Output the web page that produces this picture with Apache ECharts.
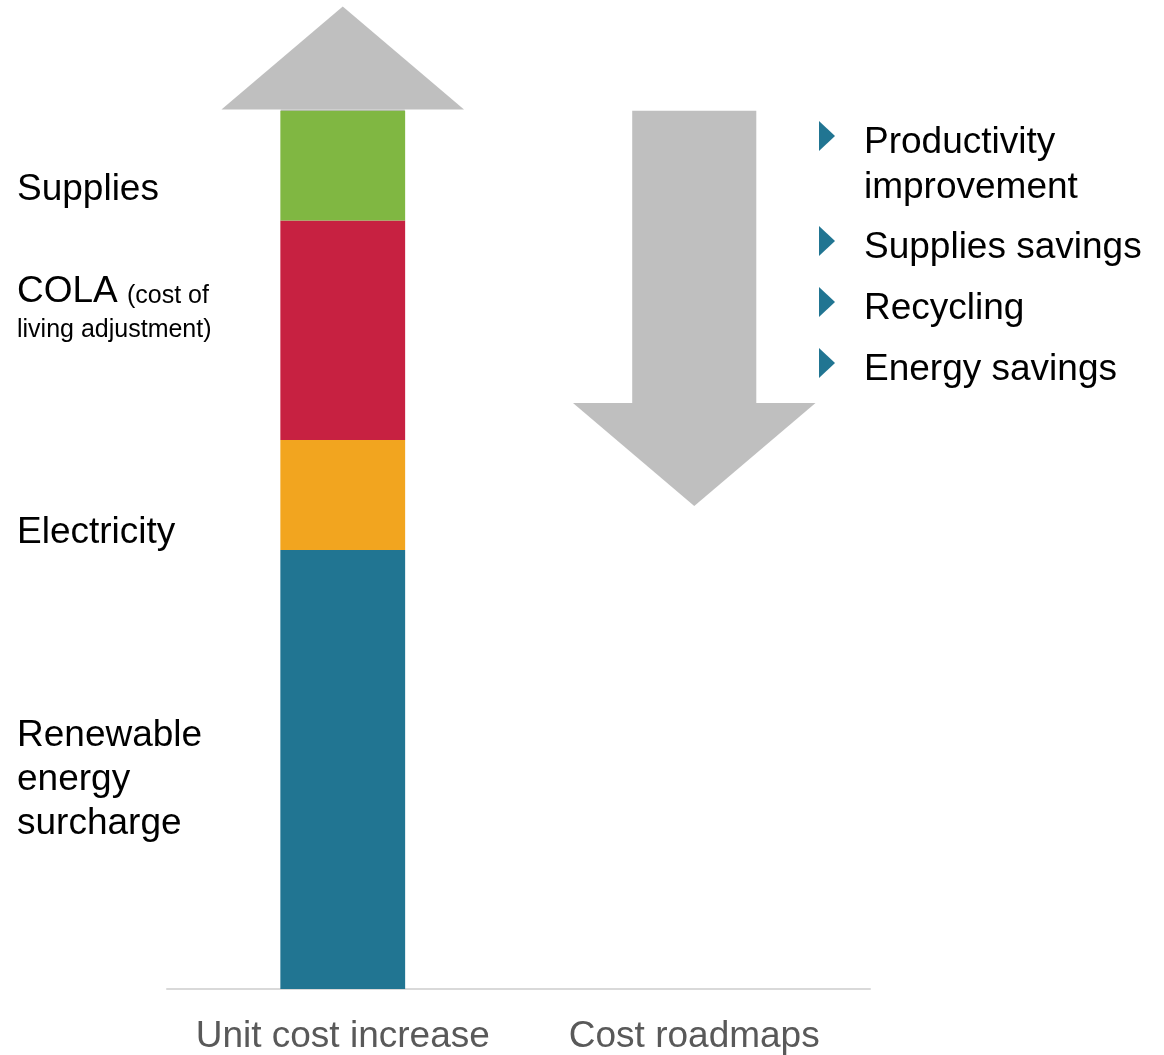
<!DOCTYPE html>
<html>
<head>
<meta charset="utf-8">
<script src="https://cdn.jsdelivr.net/npm/echarts@6/dist/echarts.min.js"></script>
<style>
html,body{margin:0;padding:0;background:#fff;}
#chart{width:1164px;height:1055px;}
</style>
</head>
<body>
<div id="chart"></div>
<script>
// ---- data ----
const categories = ['Unit cost increase', 'Cost roadmaps'];
const segmentNames = ['Renewable energy surcharge', 'Electricity', 'COLA', 'Supplies'];
const renewableValues = [4, '-'];
const electricityValues = [1, '-'];
const colaValues = [2, '-'];
const suppliesValues = [1, '-'];
// arrows: [category index, start value, tip value]
const arrowData = [[0, 8, 8.95], [1, 8, 4.4]];
const roadmapItems = ['Productivity\nimprovement', 'Supplies savings', 'Recycling', 'Energy savings'];

const colors = ['#217592', '#F2A51F', '#C72141', '#80B742'];
const FONT = '"Liberation Sans", Arial, sans-serif';

const chart = echarts.init(document.getElementById('chart'));

function arrowRender(params, api) {
  const cat = api.value(0);
  const from = api.coord([cat, api.value(1)]);
  const to = api.coord([cat, api.value(2)]);
  const band = api.size([1, 0])[0];
  const shaftW = band * 0.353;
  const headW = band * 0.69;
  const headLen = 103;
  const dir = to[1] < from[1] ? -1 : 1;
  const cx = from[0];
  const headBaseY = to[1] - dir * headLen;
  const children = [];
  if ((headBaseY - from[1]) * dir > 0) {
    const y0 = Math.min(from[1], headBaseY), y1 = Math.max(from[1], headBaseY);
    children.push({
      type: 'rect',
      shape: { x: cx - shaftW / 2, y: y0, width: shaftW, height: y1 - y0 + 0.5 },
      style: { fill: '#BFBFBF' }
    });
  }
  children.push({
    type: 'polygon',
    shape: { points: [[cx - headW / 2, headBaseY], [cx + headW / 2, headBaseY], [cx, to[1]]] },
    style: { fill: '#BFBFBF' }
  });
  return { type: 'group', children: children };
}

function stackSeries(name, data, color) {
  return {
    name: name, type: 'bar', stack: 'cost', data: data,
    barWidth: '35.5%', itemStyle: { color: color }, silent: true, z: 3
  };
}

const bulletY = [136, 241, 302, 363];
const bulletGraphics = [];
roadmapItems.forEach((t, i) => {
  const y = bulletY[i];
  bulletGraphics.push({
    type: 'polygon', shape: { points: [[819, y - 15], [835, y], [819, y + 15]] },
    style: { fill: '#217592' }
  });
  bulletGraphics.push({
    type: 'text', x: 864, y: y + 7 + (t.indexOf('\n') >= 0 ? 22.5 : 0),
    style: { text: t, font: '37px ' + FONT, fill: '#000', verticalAlign: 'middle', lineHeight: 45 }
  });
});

chart.setOption({
  animation: false,
  backgroundColor: '#fff',
  grid: { left: 167, right: 294, top: 1, bottom: 64 },
  xAxis: {
    type: 'category', data: categories,
    axisLine: { lineStyle: { color: '#D9D9D9', width: 2 } },
    axisTick: { show: false },
    axisLabel: { color: '#595959', fontSize: 37, fontFamily: FONT, margin: 29, interval: 0 }
  },
  yAxis: { type: 'value', min: 0, max: 9, show: false, splitLine: { show: false } },
  series: [
    stackSeries(segmentNames[0], renewableValues, colors[0]),
    stackSeries(segmentNames[1], electricityValues, colors[1]),
    stackSeries(segmentNames[2], colaValues, colors[2]),
    stackSeries(segmentNames[3], suppliesValues, colors[3]),
    { type: 'custom', renderItem: arrowRender, data: arrowData, z: 2, silent: true }
  ],
  graphic: [
    { type: 'text', x: 17, y: 190, style: { text: 'Supplies', font: '37px ' + FONT, fill: '#000', verticalAlign: 'middle' } },
    { type: 'text', x: 17, y: 292, style: { text: 'COLA', font: '37px ' + FONT, fill: '#000', verticalAlign: 'middle' } },
    { type: 'text', x: 127, y: 296, style: { text: '(cost of', font: '25px ' + FONT, fill: '#000', verticalAlign: 'middle' } },
    { type: 'text', x: 17, y: 330, style: { text: 'living adjustment)', font: '25px ' + FONT, fill: '#000', verticalAlign: 'middle' } },
    { type: 'text', x: 17, y: 533, style: { text: 'Electricity', font: '37px ' + FONT, fill: '#000', verticalAlign: 'middle' } },
    { type: 'text', x: 17, y: 780, style: { text: 'Renewable\nenergy\nsurcharge', font: '37px ' + FONT, fill: '#000', verticalAlign: 'middle', lineHeight: 44 } }
  ].concat(bulletGraphics)
});
</script>
</body>
</html>
